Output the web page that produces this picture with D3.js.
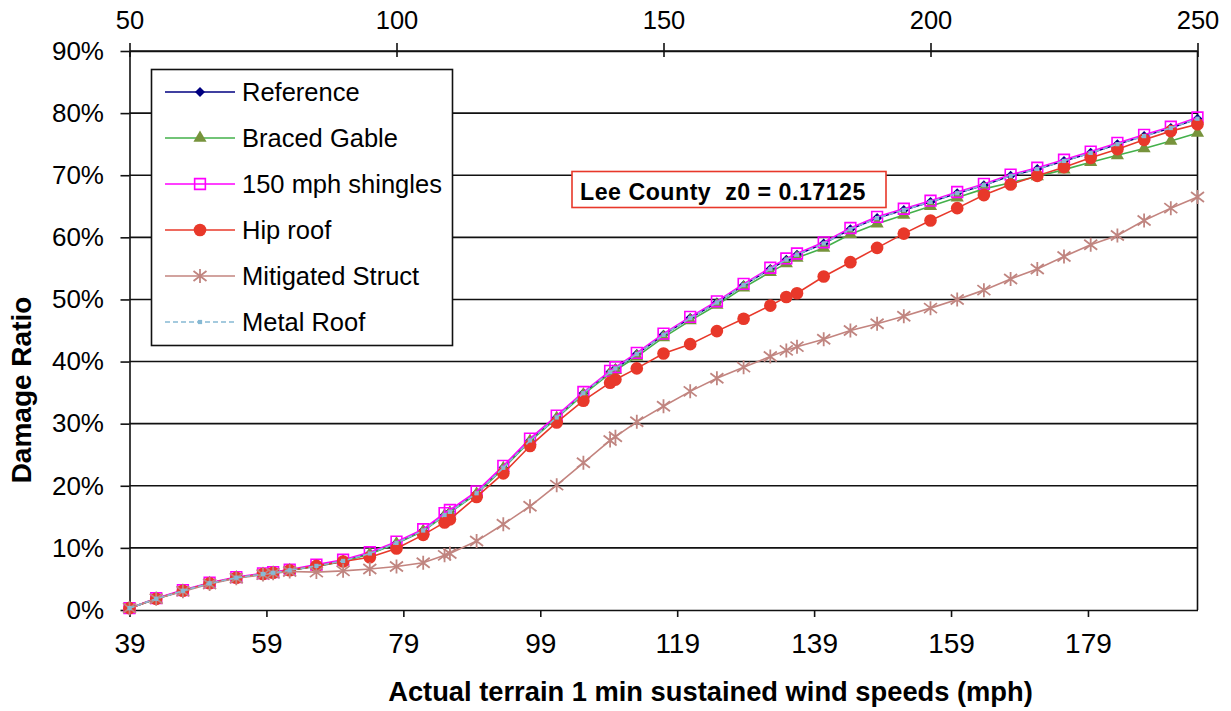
<!DOCTYPE html>
<html>
<head>
<meta charset="utf-8">
<script src="https://cdn.jsdelivr.net/npm/d3@7"></script>
<style>
body{margin:0;background:#fff;}
text{font-family:"Liberation Sans",Arial,sans-serif;fill:#000;}
</style>
</head>
<body>
<svg id="chart" width="1231" height="711"></svg>
<script>
//gust speeds (top axis, mph) where the curves are evaluated
var speeds = [50,55,60,65,70,75,76.9,80,85,90,95,100,105,109,110,115,120,125,130,135,140,141,145,150,155,160,165,170,173,175,180,185,190,195,200,205,210,215,220,225,230,235,240,245,250];

//damage ratio (%) per series
var reference = [0.3,1.8,3.1,4.3,5.2,5.8,6.0,6.4,7.1,7.9,9.1,10.8,12.8,15.3,15.8,18.8,22.9,27.3,31.0,34.9,38.3,38.9,41.2,44.3,47.0,49.5,52.3,54.9,56.4,57.2,59.0,61.3,63.1,64.4,65.7,67.1,68.4,69.9,71.0,72.3,73.6,75.0,76.3,77.6,79.1];
var bracedGable = [0.3,1.8,3.1,4.3,5.2,5.8,6.0,6.4,7.0,7.8,9.0,10.7,12.7,15.2,15.7,18.7,22.8,27.2,30.9,34.7,38.1,38.6,40.8,43.9,46.6,49.1,51.9,54.4,55.8,56.7,58.3,60.5,62.2,63.6,65.0,66.4,67.8,68.8,69.8,70.9,72.1,73.2,74.3,75.5,76.8];
var shingles150 = [0.3,1.9,3.2,4.4,5.3,5.9,6.1,6.5,7.3,8.1,9.3,11.0,13.0,15.6,16.1,19.1,23.2,27.6,31.3,35.1,38.5,39.1,41.4,44.5,47.2,49.7,52.5,55.1,56.6,57.4,59.2,61.5,63.3,64.6,65.9,67.3,68.6,70.1,71.2,72.5,73.8,75.2,76.5,77.8,79.3];
var hipRoof = [0.3,1.8,3.1,4.3,5.2,5.8,6.0,6.4,7.1,7.8,8.5,9.9,12.1,14.1,14.6,18.2,22.0,26.4,30.2,33.7,36.6,37.1,38.9,41.3,42.8,44.9,46.9,49.0,50.4,51.0,53.7,56.0,58.3,60.6,62.7,64.7,66.8,68.5,69.9,71.3,72.8,74.2,75.7,77.1,78.2];
var mitigated = [0.3,1.8,3.0,4.2,5.1,5.7,5.9,6.2,6.1,6.3,6.6,7.0,7.6,8.8,9.1,11.1,13.8,16.7,20.1,23.7,27.3,27.9,30.3,32.8,35.2,37.3,39.1,40.8,41.8,42.4,43.6,45.0,46.1,47.3,48.6,50.0,51.5,53.3,54.9,56.9,58.8,60.3,62.7,64.7,66.5];
var metalRoof = [0.3,1.8,3.1,4.3,5.2,5.8,6.0,6.4,7.1,7.9,9.1,10.8,12.8,15.3,15.8,18.8,22.9,27.3,31.0,34.9,38.3,38.9,41.2,44.3,47.0,49.5,52.3,54.9,56.4,57.2,59.0,61.3,63.1,64.4,65.7,67.1,68.4,69.9,71.0,72.3,73.6,75.0,76.3,77.6,79.1];

var seriesNames = ["Reference","Braced Gable","150 mph shingles","Hip roof","Mitigated Struct","Metal Roof"];

//tick labels
var bottomTicks = [39,59,79,99,119,139,159,179];
var topTicks = [50,100,150,200,250];
var yTicks = [0,10,20,30,40,50,60,70,80,90];

var noteText = "Lee County  z0 = 0.17125";

//styles for each series
var styles = [
	{line:"#000080", dash:null, marker:"diamond", fill:"#000080", stroke:"none"},
	{line:"#43b04a", dash:null, marker:"triangle", fill:"#77933c", stroke:"none"},
	{line:"#ff00ff", dash:null, marker:"square", fill:"none", stroke:"#ff00ff"},
	{line:"#e8382a", dash:null, marker:"circle", fill:"#e8382a", stroke:"none"},
	{line:"#c3847f", dash:null, marker:"asterisk", fill:"none", stroke:"#c08580"},
	{line:"#86b9d4", dash:"5,3", marker:"small", fill:"#86b9d4", stroke:"none"}
];
var values = [reference,bracedGable,shingles150,hipRoof,mitigated,metalRoof];

var series = seriesNames.map(function(name,i) {
	return {name:name, style:styles[i], values:speeds.map(function(s,j){return [s,values[i][j]];})};
});

var svg = d3.select("#chart");
var plotLeft = 129.5, plotRight = 1197.5, plotTop = 51, plotBottom = 610;

var xTop = d3.scaleLinear().domain([50,250]).range([plotLeft,plotRight]);
var xBottom = d3.scaleLinear().domain([39,195]).range([plotLeft,plotRight]);
var y = d3.scaleLinear().domain([0,90]).range([plotBottom,plotTop]);

//grid lines
svg.append("g").selectAll("line").data(yTicks.filter(function(d){return d>0;})).enter()
	.append("line")
	.attr("x1",plotLeft).attr("x2",plotRight)
	.attr("y1",function(d){return y(d);}).attr("y2",function(d){return y(d);})
	.attr("stroke","#111").attr("stroke-width",1.6);

//right border
svg.append("line").attr("x1",plotRight).attr("x2",plotRight).attr("y1",plotTop).attr("y2",plotBottom)
	.attr("stroke","#111").attr("stroke-width",1.6);

//y axis
var yAxis = svg.append("g").attr("transform","translate("+plotLeft+",0)")
	.call(d3.axisLeft(y).tickValues(yTicks).tickSize(9).tickSizeOuter(0).tickPadding(16.5)
		.tickFormat(function(d){return d+"%";}));
yAxis.selectAll("text").attr("font-size",26).attr("font-family","Liberation Sans, Arial");

//bottom axis
var bAxis = svg.append("g").attr("transform","translate(0,"+plotBottom+")")
	.call(d3.axisBottom(xBottom).tickValues(bottomTicks).tickSize(7).tickSizeOuter(0).tickPadding(16));
bAxis.selectAll("text").attr("font-size",28).attr("font-family","Liberation Sans, Arial");

//top axis (ticks cross the line)
var tAxis = svg.append("g").attr("transform","translate(0,"+plotTop+")")
	.call(d3.axisTop(xTop).tickValues(topTicks).tickSize(8).tickSizeOuter(0).tickPadding(14));
tAxis.selectAll(".tick line").attr("y1",6);
tAxis.selectAll("text").attr("font-size",25.5).attr("font-family","Liberation Sans, Arial");

svg.selectAll(".domain, .tick line").attr("stroke","#111").attr("stroke-width",1.6);

//axis titles
svg.append("text").attr("x",(plotLeft+plotRight)/2 + 47).attr("y",701)
	.attr("text-anchor","middle").attr("font-size",27.3).attr("font-weight","bold")
	.text("Actual terrain 1 min sustained wind speeds (mph)");
svg.append("text").attr("transform","translate(31,390) rotate(-90)")
	.attr("text-anchor","middle").attr("font-size",28).attr("font-weight","bold")
	.text("Damage Ratio");

//marker drawing
function drawMarker(g,st) {
	if (st.marker == "diamond")
		g.append("path").attr("d",d3.symbol(d3.symbolSquare,50)()).attr("transform","rotate(45)").attr("fill",st.fill);
	else if (st.marker == "triangle")
		g.append("path").attr("d",d3.symbol(d3.symbolTriangle,75)()).attr("fill",st.fill);
	else if (st.marker == "square")
		g.append("path").attr("d",d3.symbol(d3.symbolSquare,115)()).attr("fill","none").attr("stroke",st.stroke).attr("stroke-width",1.6);
	else if (st.marker == "circle")
		g.append("path").attr("d",d3.symbol(d3.symbolCircle,125)()).attr("fill",st.fill);
	else if (st.marker == "asterisk")
		g.append("path").attr("d","M0,-7L0,7M-6.5,-5L6.5,5M-6.5,5L6.5,-5")
			.attr("fill","none").attr("stroke",st.stroke).attr("stroke-width",1.8);
	else
		g.append("path").attr("d",d3.symbol(d3.symbolSquare,18)()).attr("fill",st.fill);
}

var line = d3.line()
	.x(function(d){return xTop(d[0]);})
	.y(function(d){return y(d[1]);});

//plot each series
series.forEach(function(s) {
	var g = svg.append("g");
	g.append("path").datum(s.values).attr("d",line)
		.attr("fill","none").attr("stroke",s.style.line).attr("stroke-width",1.6)
		.attr("stroke-dasharray",s.style.dash);
	g.selectAll("g.pt").data(s.values).enter().append("g").attr("class","pt")
		.attr("transform",function(d){return "translate("+xTop(d[0])+","+y(d[1])+")";})
		.each(function(){drawMarker(d3.select(this),s.style);});
});

//legend
var legend = svg.append("g");
legend.append("rect").attr("x",151.5).attr("y",69.5).attr("width",301).attr("height",276)
	.attr("fill","#fff").attr("stroke","#111").attr("stroke-width",1.6);
series.forEach(function(s,i) {
	var ly = 92 + i*46;
	legend.append("line").attr("x1",165).attr("x2",235).attr("y1",ly).attr("y2",ly)
		.attr("stroke",s.style.line).attr("stroke-width",1.6).attr("stroke-dasharray",s.style.dash);
	drawMarker(legend.append("g").attr("transform","translate(200,"+ly+")"),s.style);
	legend.append("text").attr("x",242).attr("y",ly).attr("dy","0.36em")
		.attr("font-size",25.5).text(s.name);
});

//annotation box
var note = svg.append("g");
note.append("rect").attr("x",572).attr("y",171.5).attr("width",314).attr("height",36)
	.attr("fill","#fff").attr("stroke","#e8382a").attr("stroke-width",1.6);
note.append("text").attr("x",580).attr("y",200).attr("font-size",23.2).attr("font-weight","bold")
	.attr("letter-spacing",0.5).style("white-space","pre").text(noteText);
</script>
</body>
</html>
